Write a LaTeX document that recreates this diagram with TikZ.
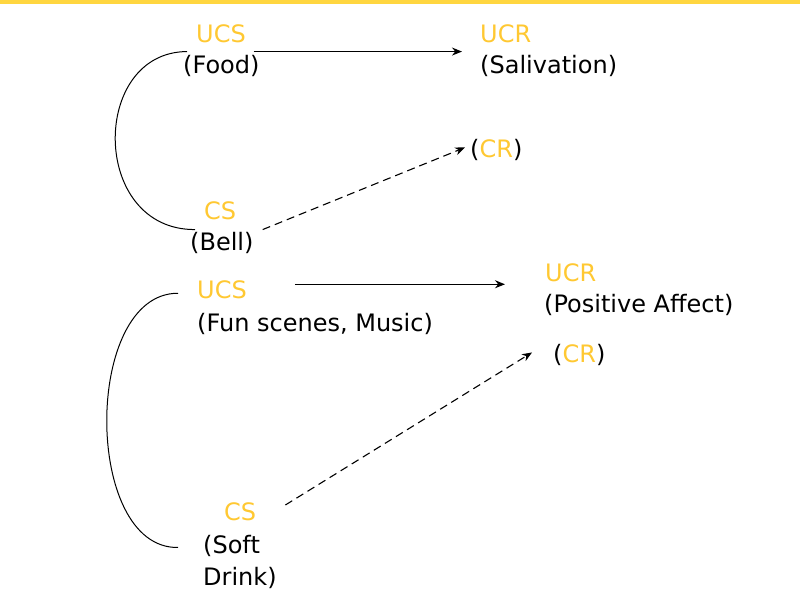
\documentclass[tikz,border=0pt]{standalone}
\usepackage{fontspec}
\setmainfont{DejaVu Sans}
\usetikzlibrary{arrows.meta}
\definecolor{cgold}{RGB}{255,200,50}
\definecolor{cbar}{RGB}{255,214,64}
\begin{document}
\begin{tikzpicture}[x=1pt, y=-1pt, >={Stealth[length=10pt,width=8pt]},
    lbl/.style={anchor=base west, inner sep=0pt, font=\fontsize{24}{32}\selectfont},
    term/.style={lbl, text=cgold},
    dash line/.style={line width=1.1pt, dash pattern=on 8pt off 5pt}]
    % frame and top bar
    \useasboundingbox (0,0) rectangle (800,613);
    \fill[cbar] (0,0) rectangle (800,4);

    % Pavlov
    \node[term] (ucs1) at (196,42) {UCS};
    \node[lbl] (food) at (183,73) {(Food)};
    \node[term] (ucr1) at (480,42) {UCR};
    \node[lbl] (saliv) at (480,73) {(Salivation)};
    \node[lbl] (cr1) at (470,157) {(\textcolor{cgold}{CR})};
    \node[term] (cs1) at (204,219) {CS};
    \node[lbl] (bell) at (190,250) {(Bell)};

    % Werbung
    \node[term] (ucs2) at (197,298) {UCS};
    \node[lbl] (fun) at (197,331) {(Fun scenes, Music)};
    \node[term] (ucr2) at (545,281) {UCR};
    \node[lbl] (pos) at (544,312) {(Positive Affect)};
    \node[lbl] (cr2) at (553,362) {(\textcolor{cgold}{CR})};
    \node[term] (cs2) at (224,520) {CS};
    \node[lbl] (soft) at (203,553) {(Soft};
    \node[lbl] (drink) at (203,585) {Drink)};

    % Verbindungen
    \draw[->, line width=1.3pt] ([xshift=-6pt,yshift=3pt]food.north east) -- ([xshift=-18pt,yshift=3pt]food.north east -| saliv.west);
    \draw[->, dash line] ([xshift=9pt,yshift=2pt]bell.north east) -- ([xshift=-5pt,yshift=2pt]cr1.west);
    \draw[line width=1pt] ([xshift=4pt,yshift=3pt]food.north west) .. controls (90,52) and (90,230) .. ([xshift=5pt,yshift=2pt]bell.north west);

    \draw[->, line width=1.3pt] ([xshift=48pt,yshift=5pt]ucs2.east) -- ([xshift=-40pt,yshift=5pt]ucs2.east -| ucr2.west);
    \draw[->, dash line] ([xshift=29pt,yshift=-3pt]cs2.north east) -- ([xshift=-21pt,yshift=2pt]cr2.west);
    \draw[line width=1pt] ([xshift=-19pt,yshift=-4pt]ucs2.west) .. controls (83,293) and (83,549) .. ([xshift=-25pt,yshift=-2pt]soft.west);
\end{tikzpicture}
\end{document}
